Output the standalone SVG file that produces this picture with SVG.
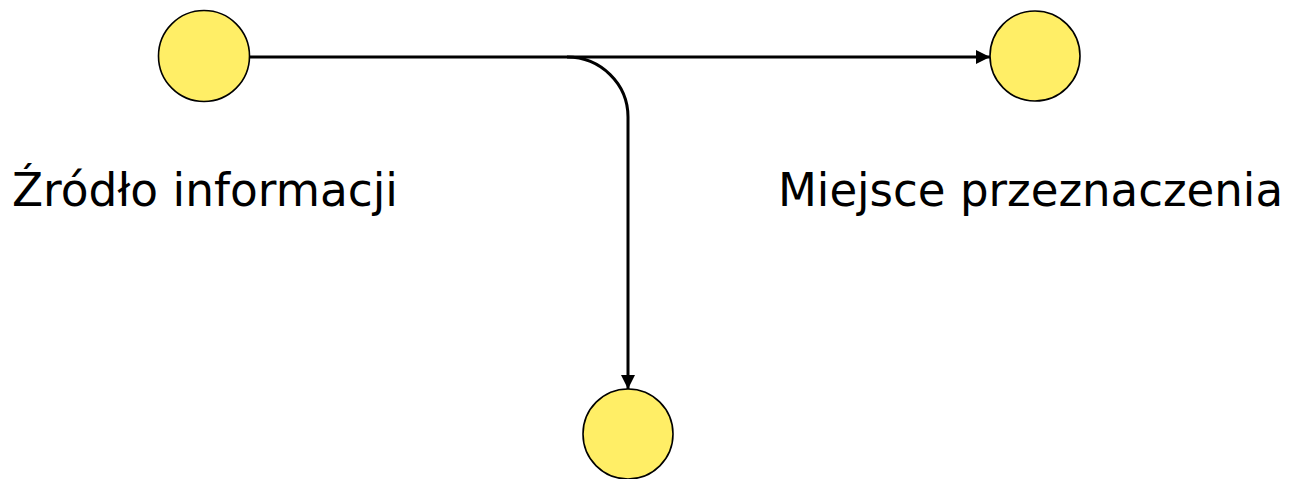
<svg xmlns="http://www.w3.org/2000/svg" width="1293" height="479" viewBox="0 0 1293 479">
<style>
.node{fill:#FFEE66;stroke:#000;stroke-width:1.6}
.edge{fill:none;stroke:#000;stroke-width:3}
.lbl{font-family:"Comic Sans MS","DejaVu Sans","Liberation Sans",sans-serif;font-size:46px;fill:#000}
</style>
<defs>
<marker id="arr" viewBox="0 0 10 10" refX="10" refY="5" markerWidth="15" markerHeight="14" orient="auto" markerUnits="userSpaceOnUse">
<path d="M0,0 L10,5 L0,10 z" fill="#000"/>
</marker>
</defs>
<rect width="1293" height="479" fill="#fff"/>
<g id="connectors">
<path class="edge" d="M250,57 L990,57" marker-end="url(#arr)"/>
<path class="edge" d="M567,57 A61,60 0 0 1 628,117 L628,389" marker-end="url(#arr)"/>
</g>
<g id="source">
<circle class="node" cx="204" cy="56" r="45.5"/>
<text class="lbl" x="12" y="206" textLength="386" lengthAdjust="spacingAndGlyphs">Źródło informacji</text>
</g>
<g id="destination">
<circle class="node" cx="1035" cy="56" r="45"/>
<text class="lbl" x="778" y="206" textLength="505" lengthAdjust="spacingAndGlyphs">Miejsce przeznaczenia</text>
</g>
<g id="sink">
<circle class="node" cx="628" cy="434" r="45"/>
</g>
</svg>
